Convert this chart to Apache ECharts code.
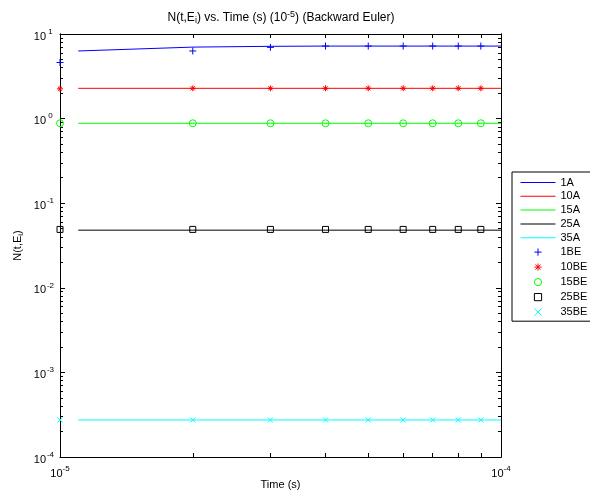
<!DOCTYPE html>
<html><head><meta charset="utf-8">
<script src="https://cdn.jsdelivr.net/npm/echarts@6/dist/echarts.min.js"></script>
<style>html,body{margin:0;padding:0;background:#fff}#c{width:590px;height:491px}</style>
</head><body><div id="c"></div>
<script>
// ---- data ----
const timeLine = [1.1e-5, 2e-5, 3e-5, 4e-5, 5e-5, 6e-5, 7e-5, 8e-5, 9e-5, 1e-4];
const timeBE = [1e-5, 2e-5, 3e-5, 4e-5, 5e-5, 6e-5, 7e-5, 8e-5, 9e-5];
const n1A  = [6.3, 7.0, 7.15, 7.2, 7.2, 7.2, 7.2, 7.2, 7.2, 7.2];
const n10A = [2.28, 2.28, 2.28, 2.28, 2.28, 2.28, 2.28, 2.28, 2.28, 2.28];
const n15A = [0.88, 0.88, 0.88, 0.88, 0.88, 0.88, 0.88, 0.88, 0.88, 0.88];
const n25A = [0.048, 0.048, 0.048, 0.048, 0.048, 0.048, 0.048, 0.048, 0.048, 0.048];
const n35A = [2.74e-4, 2.74e-4, 2.74e-4, 2.74e-4, 2.74e-4, 2.74e-4, 2.74e-4, 2.74e-4, 2.74e-4, 2.74e-4];
const n1BE  = [4.6, 6.3, 6.95, 7.2, 7.2, 7.2, 7.2, 7.2, 7.2];
const n10BE = [2.25, 2.28, 2.28, 2.28, 2.28, 2.28, 2.28, 2.28, 2.28];
const n15BE = [0.88, 0.88, 0.88, 0.88, 0.88, 0.88, 0.88, 0.88, 0.88];
const n25BE = [0.049, 0.049, 0.049, 0.049, 0.049, 0.049, 0.049, 0.049, 0.049];
const n35BE = [2.74e-4, 2.74e-4, 2.74e-4, 2.74e-4, 2.74e-4, 2.74e-4, 2.74e-4, 2.74e-4, 2.74e-4];
const xMajor = [1e-5, 1e-4];
const xMinor = [2e-5, 3e-5, 4e-5, 5e-5, 6e-5, 7e-5, 8e-5, 9e-5];
const yMajor = [1e-4, 1e-3, 1e-2, 1e-1, 1, 10];
const yMinor = [2e-4,3e-4,4e-4,5e-4,6e-4,7e-4,8e-4,9e-4,
                2e-3,3e-3,4e-3,5e-3,6e-3,7e-3,8e-3,9e-3,
                2e-2,3e-2,4e-2,5e-2,6e-2,7e-2,8e-2,9e-2,
                0.2,0.3,0.4,0.5,0.6,0.7,0.8,0.9,
                2,3,4,5,6,7,8,9];
const lineNames = ['1A', '10A', '15A', '25A', '35A'];
const markNames = ['1BE', '10BE', '15BE', '25BE', '35BE'];

const FONT = 'Liberation Sans, Arial, sans-serif';
function pow10Label(v) {
  const e = Math.round(Math.log10(v));
  return '{b|10}{e|' + (e < 0 ? '-' + (-e) : e) + '}';
}
const labelRichY = {
  b: {fontSize: 11, fontFamily: FONT, color: '#000', padding: [5, 0, 0, 0]},
  e: {fontSize: 8, fontFamily: FONT, color: '#000', padding: [0, 0, 5, 0], width: 9, align: 'left'}
};
const labelRichX = {
  b: {fontSize: 11, fontFamily: FONT, color: '#000', padding: [5, 0, 0, 0]},
  e: {fontSize: 8, fontFamily: FONT, color: '#000', padding: [0, 0, 5, 0]}
};
function pair(xs, ys) { return xs.map((x, i) => [x, ys[i]]); }

const chart = echarts.init(document.getElementById('c'), null, {renderer: 'canvas'});
const lineSeries = (name, ys, color) => ({
  name, type: 'line', data: pair(timeLine, ys), symbol: 'none', clip: false,
  lineStyle: {color, width: 1}, itemStyle: {color, borderWidth: 0}, animation: false, silent: true
});
const markSeries = (name, ys, color, symbol, size) => ({
  name, type: 'line', data: pair(timeBE, ys), symbol, symbolSize: size, showSymbol: true, clip: false,
  lineStyle: {color: 'rgba(0,0,0,0)', width: 0},
  itemStyle: {color: 'none', borderColor: color, borderWidth: 1},
  animation: false, silent: true
});
const axisBase = {type: 'log', logBase: 10, splitLine: {show: false}, axisLine: {show: true, lineStyle: {color: '#000', width: 1}}};

chart.setOption({
  animation: false,
  backgroundColor: '#fff',
  title: {
    text: 'N(t,E{s|i}) vs. Time (s) (10{p|-5}) (Backward Euler)',
    left: 276, top: 5, textAlign: 'center',
    textStyle: {fontSize: 12, fontWeight: 'normal', fontFamily: FONT, color: '#000',
      rich: {s: {fontSize: 9, fontFamily: FONT, padding: [6, 0, 0, 0]}, p: {fontSize: 9, fontFamily: FONT, padding: [0, 0, 6, 0]}}}
  },
  grid: {left: 60, right: 89, top: 34, bottom: 34, containLabel: false, outerBoundsMode: 'none'},
  xAxis: [
    Object.assign({}, axisBase, {position: 'bottom', min: 1e-5, max: 1e-4,
      name: 'Time (s)', nameLocation: 'middle', nameGap: 22, nameMoveOverlap: false,
      nameTextStyle: {fontSize: 11, fontFamily: FONT, color: '#000'},
      axisTick: {show: true, inside: true, length: 4, customValues: xMinor, lineStyle: {color: '#000'}},
      axisLabel: {show: true, customValues: xMajor, formatter: pow10Label, rich: labelRichX, margin: 6}}),
    Object.assign({}, axisBase, {position: 'top', min: 1e-5, max: 1e-4,
      axisTick: {show: true, inside: true, length: 4, customValues: xMinor, lineStyle: {color: '#000'}},
      axisLabel: {show: false}})
  ],
  yAxis: [
    Object.assign({}, axisBase, {position: 'left', min: 1e-4, max: 10,
      name: 'N(t,E{s|i})', nameLocation: 'middle', nameGap: 35, nameRotate: 90, nameMoveOverlap: false,
      nameTextStyle: {fontSize: 11, fontFamily: FONT, color: '#000', rich: {s: {fontSize: 8, fontFamily: FONT, padding: [6,0,0,0]}}},
      axisTick: {show: true, inside: true, length: 5, customValues: yMajor, lineStyle: {color: '#000'}},
      axisLabel: {show: true, customValues: yMajor, formatter: pow10Label, rich: labelRichY, margin: 5}}),
    Object.assign({}, axisBase, {position: 'left', min: 1e-4, max: 10,
      axisTick: {show: true, inside: true, length: 3, customValues: yMinor, lineStyle: {color: '#000'}},
      axisLabel: {show: false}}),
    Object.assign({}, axisBase, {position: 'right', min: 1e-4, max: 10,
      axisTick: {show: true, inside: true, length: 5, customValues: yMajor, lineStyle: {color: '#000'}},
      axisLabel: {show: false}}),
    Object.assign({}, axisBase, {position: 'right', min: 1e-4, max: 10,
      axisTick: {show: true, inside: true, length: 3, customValues: yMinor, lineStyle: {color: '#000'}},
      axisLabel: {show: false}})
  ],
  legend: {
    orient: 'vertical', left: 512, top: 172,
    itemWidth: 35, itemHeight: 9, itemGap: 2.8,
    padding: [5, 6, 3, 8],
    borderColor: '#000', borderWidth: 1, backgroundColor: '#fff',
    itemStyle: {borderWidth: 1},
    lineStyle: {width: 1},
    textStyle: {fontSize: 11, fontFamily: FONT, color: '#000'},
    data: lineNames.map(n => ({name: n, icon: 'path://M0,0L35,0L35,1L0,1Z', itemStyle: {borderWidth: 0}}))
      .concat(markNames.map(n => ({name: n})))
  },
  series: [
    lineSeries('1A', n1A, '#0000ff'),
    lineSeries('10A', n10A, '#ff0000'),
    lineSeries('15A', n15A, '#00ff00'),
    lineSeries('25A', n25A, '#000000'),
    lineSeries('35A', n35A, '#00ffff'),
    markSeries('1BE', n1BE, '#0000ff', 'path://M0,5L10,5M5,0L5,10', 7),
    markSeries('10BE', n10BE, '#ff0000', 'path://M0,5L10,5M5,0L5,10M1.5,1.5L8.5,8.5M1.5,8.5L8.5,1.5', 6),
    markSeries('15BE', n15BE, '#00ff00', 'circle', 7),
    markSeries('25BE', n25BE, '#000000', 'rect', 6),
    markSeries('35BE', n35BE, '#00ffff', 'path://M0,0L10,10M0,10L10,0', 5)
  ]
});
</script></body></html>
